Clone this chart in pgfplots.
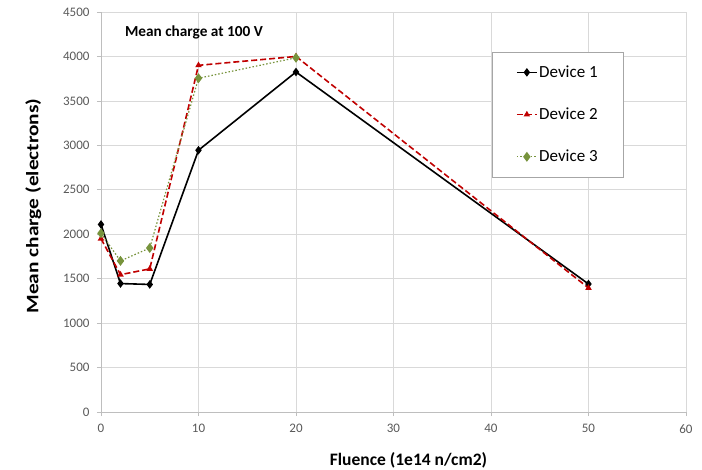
\documentclass[border=0pt]{standalone}
\usepackage{fontspec}
\setmainfont{Carlito}
\usepackage{pgfplots}
\pgfplotsset{compat=1.18}
\definecolor{devred}{RGB}{192,0,0}
\definecolor{devgreen}{RGB}{119,147,60}
\definecolor{gridc}{RGB}{217,217,217}
\definecolor{tickc}{RGB}{89,89,89}
\begin{document}
\begin{tikzpicture}
\useasboundingbox (-101pt,-57pt) rectangle (601pt,412pt);
\begin{axis}[
  at={(0,0)}, anchor=south west,
  scale only axis, width=585pt, height=400pt,
  xmin=0, xmax=60, ymin=0, ymax=4500,
  xtick={0,10,...,60}, ytick={0,500,...,4500},
  grid=major, major grid style={gridc, line width=0.6pt},
  axis line style={gridc!70!gray, line width=0.6pt},
  axis x line*=bottom, axis y line*=left,
  tick style={gridc!70!gray, line width=0.6pt},
  tick align=outside, major tick length=4pt,
  xtick pos=bottom, ytick pos=left,
  /pgf/number format/assume math mode=true,
  /pgf/number format/1000 sep={},
  tick label style={font=\fontsize{13}{15}\selectfont, text=tickc},
  xticklabel style={yshift=-5pt},
  yticklabel style={xshift=-4pt},
  xlabel={\textbf{Fluence (1e14 n/cm2)}},
  ylabel={\scalebox{1.22}[1]{\textbf{Mean charge (electrons)}}},
  label style={font=\fontsize{17.5}{20}\selectfont},
  xlabel style={at={(axis description cs:0.5,0)}, anchor=north, yshift=-37pt, xshift=15pt},
  ylabel style={at={(axis description cs:0,0.5)}, anchor=south, yshift=56pt, xshift=6pt},
  legend style={at={(rel axis cs:0.668,0.9)}, anchor=north west, draw=gray!70, line width=0.6pt,
    font=\fontsize{17}{19}\selectfont, row sep=26pt, inner xsep=24pt, inner ysep=12pt,
    nodes={inner sep=1.5pt}},
  legend cell align=left,
  legend image code/.code={\draw[mark repeat=2,mark phase=2,#1] plot coordinates {(0pt,0pt) (10pt,0pt) (20pt,0pt)};},
  clip=false,
]
\node[anchor=west, font=\fontsize{15.3}{18}\selectfont\bfseries] at (axis cs:2.1,4265) {Mean charge at 100 V};
\addplot[black, line width=1.6pt, mark=diamond*, mark size=3pt, mark options={solid}]
  coordinates {(0,2110) (2,1445) (5,1435) (10,2945) (20,3825) (50,1440)};
\addlegendentry{Device 1}
\addplot[devred, line width=1.6pt, dash pattern=on 6pt off 3pt, mark=triangle*, mark size=2.2pt, mark options={solid}]
  coordinates {(0,1950) (2,1545) (5,1610) (10,3900) (20,4000) (50,1395)};
\addlegendentry{Device 2}
\addplot[devgreen, line width=1.2pt, dash pattern=on 1.5pt off 2pt, mark=diamond*, mark size=4pt, mark options={solid}]
  coordinates {(0,2010) (2,1700) (5,1845) (10,3755) (20,3985)};
\addlegendentry{Device 3}
\end{axis}
\end{tikzpicture}
\end{document}
